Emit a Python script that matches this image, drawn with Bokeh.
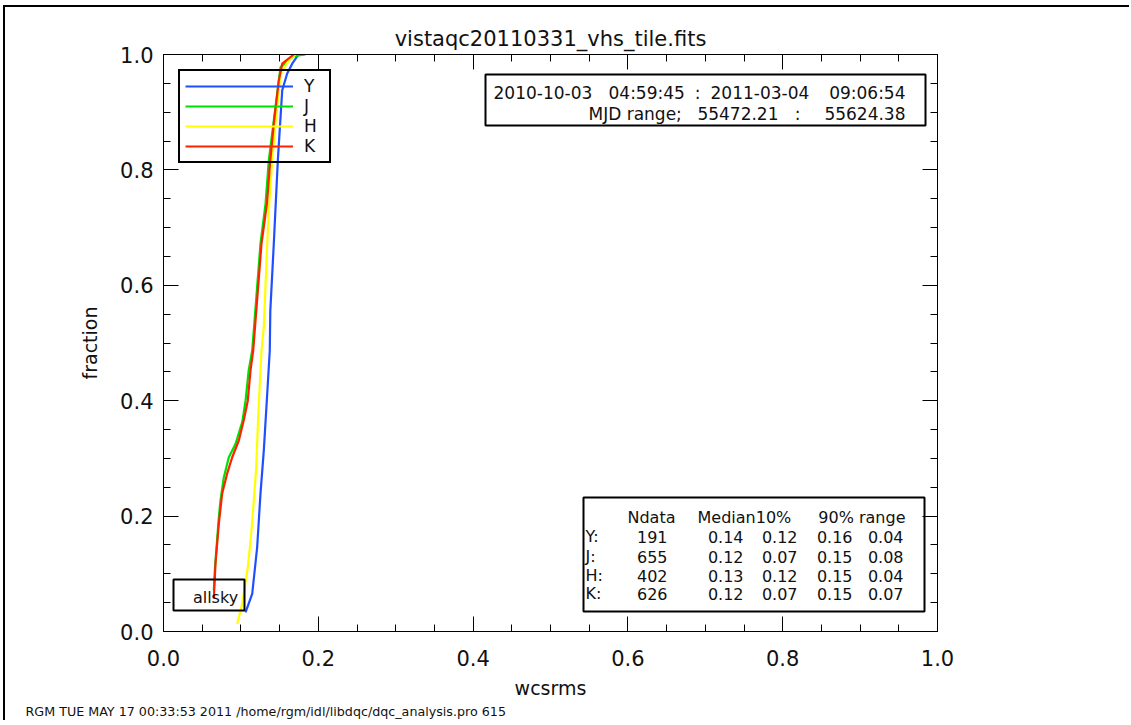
from bokeh.plotting import figure
from bokeh.models import (Range1d, LinearAxis, SingleIntervalTicker, Legend, LegendItem,
                          BoxAnnotation, Label, PrintfTickFormatter, Title)
from bokeh.embed import file_html
from bokeh.resources import INLINE

# ---------------- data ----------------
title_text = "vistaqc20110331_vhs_tile.fits"
x_label = "wcsrms"
y_label = "fraction"
bands = ["Y", "J", "H", "K"]
colors = ["#1f4fff", "#00e000", "#ffff00", "#ff2200"]

y_band_x = [0.106, 0.1146, 0.121, 0.1253, 0.1296, 0.134, 0.1373, 0.138, 0.1425, 0.1477, 0.1534, 0.1598, 0.1663, 0.1744]
y_band_f = [0.033, 0.065, 0.146, 0.239, 0.314, 0.412, 0.487, 0.556, 0.672, 0.816, 0.938, 0.967, 0.984, 1.0]

j_band_x = [0.065, 0.0665, 0.0715, 0.0736, 0.0779, 0.0844, 0.093, 0.1017, 0.106, 0.110, 0.1146, 0.1253, 0.1318, 0.136, 0.1447, 0.1512, 0.1683, 0.1835]
j_band_f = [0.071, 0.111, 0.198, 0.227, 0.267, 0.302, 0.325, 0.363, 0.40, 0.452, 0.487, 0.672, 0.741, 0.816, 0.909, 0.978, 0.997, 1.0]

h_band_x = [0.0952, 0.1017, 0.1089, 0.1133, 0.1167, 0.1198, 0.1223, 0.1253, 0.1266, 0.1296, 0.1331, 0.136, 0.1404, 0.1447, 0.1512, 0.1619, 0.1705]
h_band_f = [0.013, 0.048, 0.111, 0.169, 0.227, 0.285, 0.371, 0.452, 0.487, 0.527, 0.643, 0.730, 0.816, 0.880, 0.966, 0.990, 1.0]

k_band_x = [0.065, 0.0672, 0.0715, 0.0758, 0.0823, 0.0888, 0.0973, 0.1037, 0.1089, 0.1124, 0.1159, 0.1266, 0.1337, 0.1376, 0.1425, 0.149, 0.1534, 0.1683]
k_band_f = [0.057, 0.118, 0.187, 0.239, 0.274, 0.302, 0.331, 0.366, 0.40, 0.452, 0.487, 0.672, 0.742, 0.811, 0.880, 0.955, 0.984, 1.0]

ndata = [191, 655, 402, 626]
median = [0.14, 0.12, 0.13, 0.12]
p10 = [0.12, 0.07, 0.12, 0.07]
p90 = [0.16, 0.15, 0.15, 0.15]
prange = [0.04, 0.08, 0.04, 0.07]
table_header = ["Ndata", "Median10%", "90% range"]

date_start = "2010-10-03 04:59:45"
date_end = "2011-03-04 09:06:54"
mjd_start = 55472.21
mjd_end = 55624.38
region_label = "allsky"
footer = "RGM TUE MAY 17 00:33:53 2011 /home/rgm/idl/libdqc/dqc_analysis.pro 615"

# ---------------- layout ----------------
FONT = "DejaVu Sans"
PX0, PY0 = 5, 7                            # canvas top-left on the page (after margin + border)
W, H = 1126, 715
FL, FT = 163 - PX0, 54 - PY0               # frame at page x 163..937, y 54..631
FW, FH = 774, 577
FR, FB = W - FL - FW, H - FT - FH
OX, OY = 163, 54


def dx(px):
    return (px - OX) / FW


def dy(py):
    return (OY + FH - py) / FH


p = figure(width=W, height=H, output_backend="svg", toolbar_location=None,
           x_range=Range1d(0, 1), y_range=Range1d(0, 1),
           min_border_left=FL, min_border_right=FR, min_border_top=FT, min_border_bottom=FB,
           title=title_text, x_axis_label=x_label, y_axis_label=y_label)
p.margin = (5, 0, 0, 3)
p.styles = {"border-top": "2px solid black", "border-left": "2px solid black"}

p.grid.visible = False
p.outline_line_color = "black"
p.outline_line_width = 1
p.background_fill_color = "white"
p.border_fill_color = "white"

p.title.text_font = FONT
p.title.text_font_size = "21px"
p.title.text_font_style = "normal"
p.title.align = "center"
p.title.text_color = "#111111"
p.title.standoff = 8

bottom_ax = p.below[0]
left_ax = p.left[0]
top_ax = LinearAxis()
right_ax = LinearAxis()
p.add_layout(top_ax, "above")
p.add_layout(right_ax, "right")

for ax in [bottom_ax, left_ax, top_ax, right_ax]:
    ax.ticker = SingleIntervalTicker(interval=0.2, num_minor_ticks=4)
    ax.formatter = PrintfTickFormatter(format="%.1f")
    ax.axis_line_color = "black"
    ax.major_tick_line_color = "black"
    ax.minor_tick_line_color = "black"
    ax.major_tick_in = 15
    ax.major_tick_out = 0
    ax.minor_tick_in = 7
    ax.minor_tick_out = 0
    ax.major_label_text_font = FONT
    ax.major_label_text_font_size = "21px"
    ax.major_label_text_color = "#111111"
    ax.axis_label_text_font = FONT
    ax.axis_label_text_font_size = "19px"
    ax.axis_label_text_font_style = "normal"
    ax.axis_label_text_color = "#111111"

for ax in [top_ax, right_ax]:
    ax.major_label_text_font_size = "1px"
    ax.major_label_text_color = None
    ax.major_label_standoff = 0

bottom_ax.major_label_standoff = 18
bottom_ax.axis_label_standoff = 8
left_ax.major_label_standoff = 10
left_ax.axis_label_standoff = 16

footer_title = Title(text=footer, align="left", offset=25 - 163, standoff=0,
                     text_font=FONT, text_font_size="12.7px", text_font_style="normal",
                     text_color="#111111")
p.add_layout(footer_title, "below")

# ---------------- curves ----------------
series = [(y_band_x, y_band_f), (j_band_x, j_band_f), (h_band_x, h_band_f), (k_band_x, k_band_f)]
renderers = []
for (xs, fs), c in zip(series, colors):
    r = p.line(xs, fs, line_color=c, line_width=2.2)
    renderers.append(r)

legend = Legend(items=[LegendItem(label=b, renderers=[r]) for b, r in zip(bands, renderers)],
                location="top_left", margin=15,
                orientation="vertical",
                glyph_width=108, glyph_height=20, label_height=20,
                label_standoff=11, spacing=0, padding=5,
                border_line_color="black", border_line_width=2, border_line_alpha=1,
                background_fill_alpha=0,
                label_text_font=FONT, label_text_font_size="17px", label_text_color="#111111")
p.add_layout(legend)

# ---------------- boxes ----------------
def box(l, r, t, b):
    p.add_layout(BoxAnnotation(left=dx(l), right=dx(r), top=dy(t), bottom=dy(b),
                               fill_alpha=0, line_color="black", line_alpha=1, line_width=2))


box(485, 925, 74, 125)      # date range
box(583, 924, 497, 611)     # statistics table
box(173, 244, 579, 610)     # region label


def txt(s, px, py, align="left", size="16px"):
    p.add_layout(Label(x=dx(px), y=dy(py), text=s, text_align=align, text_baseline="middle",
                       text_font=FONT, text_font_size=size, text_color="#111111"))


# date box
d0, t0 = date_start.split()
d1, t1 = date_end.split()
txt(d0, 493, 92, size="17px")
txt(t0, 608, 92, size="17px")
txt(":", 697, 92, "center", size="17px")
txt(d1, 710, 92, size="17px")
txt(t1, 905, 92, "right", size="17px")
txt("MJD range;", 588, 113, size="17px")
txt(f"{mjd_start:.2f}", 778, 113, "right", size="17px")
txt(":", 797, 113, "center", size="17px")
txt(f"{mjd_end:.2f}", 905, 113, "right", size="17px")

# stats table
txt(table_header[0], 651, 517, "center")
txt(table_header[1], 697, 517)
txt(table_header[2], 905, 517, "right")
row_y = [536, 556, 575, 593]
for i, b in enumerate(bands):
    yy = row_y[i]
    txt(b + ":", 585, yy)
    txt(str(ndata[i]), 667, yy, "right")
    txt(f"{median[i]:.2f}", 743, yy, "right")
    txt(f"{p10[i]:.2f}", 797, yy, "right")
    txt(f"{p90[i]:.2f}", 852, yy, "right")
    txt(f"{prange[i]:.2f}", 903, yy, "right")

# region label
txt(region_label, 215, 597, "center")

open("out.html", "w").write(file_html(p, INLINE))
